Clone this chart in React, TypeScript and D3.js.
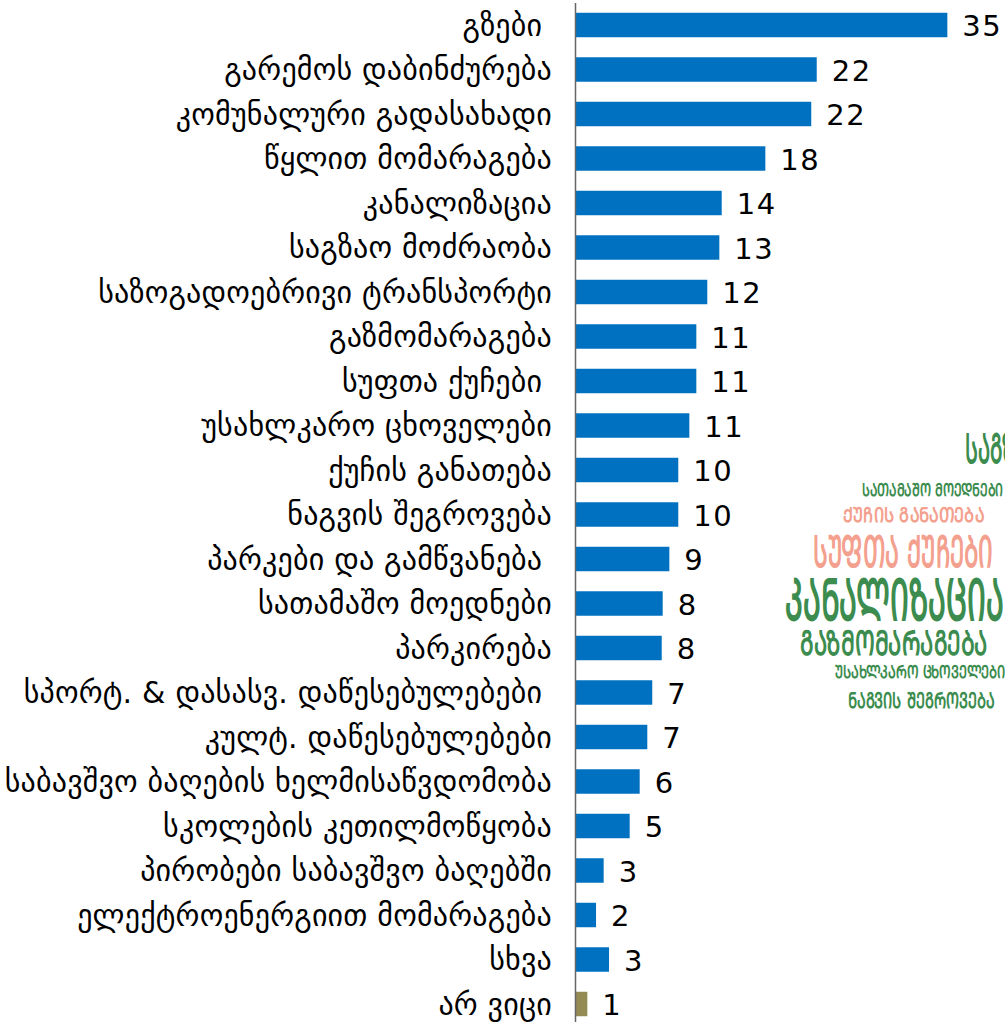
import * as d3 from 'd3';

const categories = [
  'გზები ',
  'გარემოს დაბინძურება',
  'კომუნალური გადასახადი',
  'წყლით მომარაგება',
  'კანალიზაცია',
  'საგზაო მოძრაობა',
  'საზოგადოებრივი ტრანსპორტი',
  'გაზმომარაგება',
  'სუფთა ქუჩები ',
  'უსახლკარო ცხოველები',
  'ქუჩის განათება',
  'ნაგვის შეგროვება',
  'პარკები და გამწვანება ',
  'სათამაშო მოედნები',
  'პარკირება',
  'სპორტ. & დასასვ. დაწესებულებები ',
  'კულტ. დაწესებულებები',
  'საბავშვო ბაღების ხელმისაწვდომობა',
  'სკოლების კეთილმოწყობა',
  'პირობები საბავშვო ბაღებში',
  'ელექტროენერგიით მომარაგება',
  'სხვა',
  'არ ვიცი',
];

// percentages (labels are rounded)
const values = [
  34.59, 22.44, 21.93, 17.66, 13.6, 13.38, 12.26, 11.24, 11.24, 10.59, 9.56, 9.56,
  8.73, 8.11, 8.02, 7.14, 6.68, 5.97, 5.04, 2.62, 1.91, 3.12, 1.1,
];

const dontKnow = 'არ ვიცი';

// word cloud on the right
const cloudWords = [
  'საგზაო მოძრაობა',
  'სათამაშო მოედნები',
  'ქუჩის განათება',
  'სუფთა ქუჩები',
  'კანალიზაცია',
  'გაზმომარაგება',
  'უსახლკარო ცხოველები',
  'ნაგვის შეგროვება',
];
const cloudSizes = [30, 13, 15, 32, 42, 25, 13, 16];
const cloudTones = ['g', 'g', 's', 's', 'g', 'g', 'g', 'g'];

const W = 1005;
const H = 1022;
const axisX = 575.5;
const labelRight = 552;

const toMtavruli = (s: string) =>
  Array.from(s)
    .map((ch) => {
      const c = ch.charCodeAt(0);
      return c >= 0x10d0 && c <= 0x10fa ? String.fromCharCode(c - 0x10d0 + 0x1c90) : ch;
    })
    .join('');

const App = () => {
  const y = d3.scaleBand<string>().domain(categories).range([2.75, 1026.25]).paddingInner(0.45).paddingOuter(0.225);
  const x = d3.scaleLinear().domain([0, 35]).range([0, 376.25]);
  const fmt = d3.format('.0f');

  // cloud layout: left x, top y, width of each line
  const cloudLeft = [965, 862, 843, 813, 785, 800, 835, 848];
  const cloudTop = [433, 483, 507, 535, 578, 630, 665, 692];
  const cloudWidth = [205, 141, 141, 180, 219, 188, 170, 147];
  const green = '#3b8c4e';
  const salmon = '#f4a08e';

  return (
    <svg
      width={W}
      height={H}
      style={{ position: 'absolute', left: 0, top: 0, background: '#fff' }}
      fontFamily="'DejaVu Sans', sans-serif"
    >
      {categories.map((c, i) => {
        const yy = y(c)!;
        const bw = y.bandwidth();
        return (
          <g key={c}>
            <rect
              x={axisX}
              y={yy}
              width={x(values[i])}
              height={bw}
              fill={c === dontKnow ? '#948a54' : '#0070c0'}
            />
            <text
              x={labelRight}
              y={yy + bw / 2}
              textAnchor="end"
              dominantBaseline="central"
              fontSize={30}
              letterSpacing={0.2}
              fill="#000"
              style={{ whiteSpace: 'pre' }}
            >
              {c}
            </text>
            <text
              x={axisX + x(values[i]) + 15}
              y={yy + bw / 2 + 1}
              dominantBaseline="central"
              fontSize={29}
              letterSpacing={1.5}
              fill="#000"
            >
              {fmt(values[i])}
            </text>
          </g>
        );
      })}
      <line x1={axisX} x2={axisX} y1={3} y2={H} stroke="#666" strokeWidth={1.5} />
      {cloudWords.map((w, i) => (
        <text
          key={w}
          x={cloudLeft[i]}
          y={cloudTop[i] + cloudSizes[i]}
          fontSize={cloudSizes[i] / 0.73}
          fontWeight="bold"
          fill={cloudTones[i] === 's' ? salmon : green}
          textLength={cloudWidth[i]}
          lengthAdjust="spacingAndGlyphs"
        >
          {toMtavruli(w)}
        </text>
      ))}
    </svg>
  );
};

export default App;
